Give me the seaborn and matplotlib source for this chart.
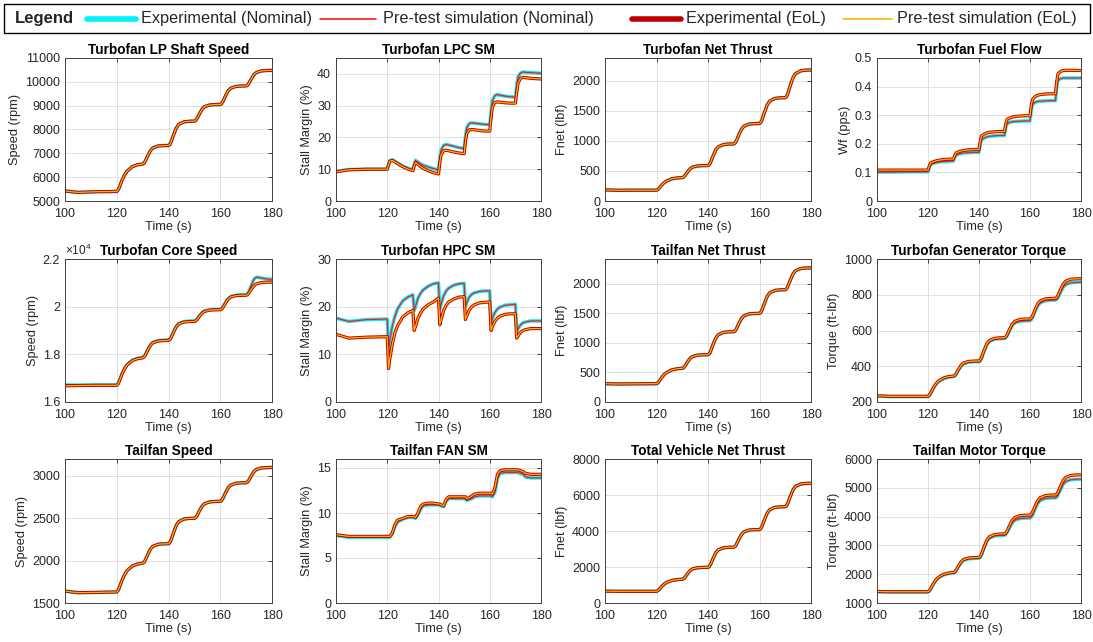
import numpy as np
import pandas as pd
import matplotlib
matplotlib.use("Agg")
import matplotlib.pyplot as plt
from matplotlib.lines import Line2D
from matplotlib.patches import Rectangle
from matplotlib.ticker import FixedLocator, FixedFormatter, FuncFormatter
import seaborn as sns

# ---------------- data ----------------
TIME = [100, 105, 112,
        120, 120.5, 121, 122, 123, 124, 126, 128,
        130, 130.5, 131, 132, 133, 134, 136, 138,
        140, 140.5, 141, 142, 143, 144, 146, 148,
        150, 150.5, 151, 152, 153, 154, 156, 158,
        160, 160.5, 161, 162, 163, 164, 166, 168,
        170, 170.5, 171, 172, 173, 174, 176, 178,
        180]

lp_speed = [5420, 5360, 5390,
            5400, 5460, 5570, 5860, 6090, 6250, 6440, 6520,
            6550, 6580, 6670, 6900, 7110, 7230, 7310, 7325,
            7330, 7370, 7480, 7790, 8060, 8220, 8320, 8345,
            8350, 8380, 8455, 8665, 8855, 8960, 9030, 9047,
            9050, 9080, 9170, 9400, 9610, 9730, 9805, 9826,
            9830, 9855, 9930, 10120, 10300, 10395, 10460, 10477,
            10480]

lpc_sm_nom = [9.3, 9.9, 10.0,
              10.0, 11.5, 12.7, 13.0, 12.5, 12.0, 11.0, 10.3,
              9.8, 11.5, 12.8, 12.3, 11.7, 11.3, 10.7, 10.2,
              9.8, 13.5, 16.0, 17.5, 17.8, 17.6, 17.2, 16.8,
              16.5, 20.0, 23.0, 24.4, 24.6, 24.5, 24.3, 24.1,
              24.0, 28.0, 31.5, 33.2, 33.5, 33.3, 33.0, 32.8,
              32.7, 36.0, 39.0, 40.3, 40.6, 40.5, 40.4, 40.3,
              40.2]
lpc_sm_eol = [9.2, 9.8, 10.0,
              10.0, 11.4, 12.5, 12.8, 12.3, 11.8, 10.8, 10.1,
              9.5, 11.0, 12.0, 11.5, 10.8, 10.3, 9.5, 8.9,
              8.5, 12.0, 14.5, 15.8, 16.0, 15.8, 15.4, 15.1,
              14.9, 18.5, 21.2, 22.4, 22.5, 22.4, 22.2, 22.0,
              22.0, 26.0, 29.5, 31.0, 31.2, 31.1, 30.9, 30.8,
              30.8, 34.0, 37.0, 38.6, 38.9, 38.8, 38.6, 38.5,
              38.4]

tf_thrust = [185, 178, 180,
             180, 190, 212, 264, 306, 335, 369, 384,
             390, 398, 420, 480, 534, 564, 584, 589,
             590, 604, 644, 752, 849, 903, 939, 948,
             950, 964, 1001, 1103, 1195, 1246, 1280, 1288,
             1290, 1307, 1355, 1484, 1600, 1664, 1707, 1718,
             1720, 1738, 1789, 1927, 2051, 2120, 2166, 2178,
             2180]

fuel_nom = [0.101, 0.101, 0.102,
            0.102, 0.116, 0.127, 0.131, 0.134, 0.136, 0.138, 0.139,
            0.140, 0.153, 0.160, 0.164, 0.166, 0.168, 0.169, 0.170,
            0.170, 0.198, 0.214, 0.220, 0.224, 0.226, 0.228, 0.229,
            0.229, 0.258, 0.270, 0.275, 0.277, 0.278, 0.279, 0.280,
            0.280, 0.318, 0.338, 0.345, 0.348, 0.349, 0.350, 0.351,
            0.351, 0.400, 0.422, 0.428, 0.430, 0.430, 0.430, 0.430,
            0.430]
fuel_eol = [0.108, 0.108, 0.108,
            0.108, 0.122, 0.133, 0.137, 0.140, 0.142, 0.145, 0.146,
            0.147, 0.160, 0.168, 0.172, 0.175, 0.177, 0.179, 0.180,
            0.180, 0.210, 0.228, 0.234, 0.238, 0.240, 0.242, 0.243,
            0.243, 0.270, 0.285, 0.290, 0.293, 0.295, 0.297, 0.298,
            0.298, 0.335, 0.355, 0.365, 0.370, 0.372, 0.374, 0.375,
            0.375, 0.420, 0.445, 0.453, 0.456, 0.457, 0.457, 0.457,
            0.456]

core_nom = [16720, 16710, 16720,
            16720, 16778, 16893, 17180, 17410, 17571, 17755, 17836,
            17870, 17899, 17980, 18199, 18396, 18505, 18578, 18596,
            18600, 18632, 18720, 18960, 19176, 19296, 19376, 19396,
            19400, 19420, 19474, 19621, 19753, 19826, 19875, 19888,
            19890, 19914, 19982, 20165, 20329, 20421, 20482, 20497,
            20500, 20530, 20620, 20900, 21150, 21240, 21200, 21160,
            21150]
core_eol = [16680, 16690, 16700,
            16700, 16758, 16873, 17160, 17390, 17551, 17735, 17816,
            17850, 17879, 17960, 18179, 18376, 18485, 18558, 18576,
            18580, 18612, 18700, 18940, 19156, 19276, 19356, 19376,
            19380, 19400, 19454, 19601, 19733, 19806, 19855, 19868,
            19870, 19894, 19962, 20145, 20309, 20401, 20462, 20477,
            20480, 20502, 20563, 20728, 20876, 20959, 21014, 21027,
            21030]
core_ticklabels = ["1.6", "1.8", "2", "2.2"]

hpc_sm_nom = [17.6, 16.9, 17.3,
              17.4, 11.0, 13.0, 16.0, 18.0, 19.5, 21.2, 22.0,
              22.5, 19.2, 20.0, 21.8, 22.8, 23.5, 24.3, 24.8,
              25.0, 19.5, 20.5, 22.3, 23.3, 23.9, 24.5, 24.8,
              24.9, 20.0, 20.8, 22.0, 22.6, 22.9, 23.2, 23.3,
              23.3, 16.5, 17.5, 18.8, 19.5, 19.9, 20.3, 20.4,
              20.5, 14.8, 15.3, 16.2, 16.6, 16.8, 17.0, 17.0,
              17.0]
hpc_sm_eol = [14.2, 13.4, 13.6,
              13.7, 7.0, 9.0, 12.2, 14.5, 16.0, 17.8, 18.7,
              19.2, 15.0, 15.8, 17.6, 18.7, 19.5, 20.4, 21.0,
              21.8, 16.2, 17.2, 19.2, 20.3, 21.0, 21.6, 22.0,
              22.1, 17.3, 18.0, 19.3, 20.0, 20.4, 20.8, 20.9,
              21.0, 15.0, 15.8, 16.9, 17.6, 18.0, 18.4, 18.5,
              18.5, 13.4, 13.8, 14.6, 15.0, 15.2, 15.4, 15.4,
              15.4]

tail_thrust = [310, 305, 308,
               310, 323, 349, 414, 466, 502, 544, 562,
               570, 579, 605, 674, 736, 770, 793, 799,
               800, 816, 859, 976, 1081, 1139, 1178, 1188,
               1190, 1202, 1237, 1330, 1413, 1460, 1491, 1498,
               1500, 1516, 1560, 1680, 1788, 1848, 1888, 1898,
               1900, 1915, 1956, 2067, 2166, 2222, 2259, 2268,
               2270]

gen_torque_nom = [233, 230, 230,
                  230, 236, 247, 275, 297, 313, 330, 338,
                  343, 346, 355, 380, 402, 414, 423, 425,
                  425, 430, 445, 484, 519, 538, 551, 554,
                  555, 559, 570, 600, 627, 642, 652, 654,
                  655, 660, 672, 707, 738, 755, 767, 769,
                  770, 774, 785, 815, 842, 857, 867, 869,
                  870]
gen_torque_eol = [235, 232, 232,
                  232, 238, 249, 277, 300, 316, 334, 342,
                  345, 348, 358, 383, 406, 419, 427, 429,
                  430, 435, 450, 489, 524, 543, 556, 559,
                  560, 564, 576, 607, 636, 651, 662, 664,
                  665, 670, 682, 717, 748, 765, 777, 779,
                  780, 784, 797, 830, 859, 876, 887, 889,
                  890]

tail_speed = [1640, 1622, 1625,
              1630, 1647, 1681, 1766, 1834, 1882, 1936, 1960,
              1970, 1979, 2005, 2074, 2136, 2170, 2193, 2199,
              2200, 2212, 2245, 2335, 2416, 2461, 2491, 2499,
              2500, 2508, 2530, 2590, 2644, 2674, 2694, 2699,
              2700, 2709, 2733, 2799, 2858, 2891, 2913, 2919,
              2920, 2927, 2947, 3001, 3050, 3077, 3095, 3099,
              3100]

fan_sm_nom = [7.5, 7.3, 7.3,
              7.3, 7.3, 7.3, 7.7, 8.5, 9.0, 9.3, 9.5,
              9.5, 9.5, 9.4, 9.8, 10.4, 10.8, 10.9, 10.9,
              10.9, 10.9, 10.8, 10.7, 11.3, 11.6, 11.6, 11.6,
              11.6, 11.6, 11.4, 11.5, 11.6, 11.8, 11.9, 11.9,
              11.9, 11.9, 11.8, 12.3, 13.8, 14.4, 14.5, 14.5,
              14.5, 14.5, 14.5, 14.4, 14.3, 14.0, 13.9, 13.9,
              13.9]
fan_sm_eol = [7.6, 7.4, 7.4,
              7.4, 7.4, 7.4, 7.8, 8.7, 9.2, 9.4, 9.6,
              9.6, 9.6, 9.5, 10.0, 10.7, 11.0, 11.1, 11.1,
              11.0, 11.0, 10.9, 10.8, 11.5, 11.8, 11.8, 11.8,
              11.8, 11.8, 11.6, 11.7, 11.9, 12.1, 12.2, 12.2,
              12.2, 12.2, 12.1, 12.8, 14.3, 14.7, 14.8, 14.8,
              14.8, 14.8, 14.8, 14.7, 14.6, 14.4, 14.3, 14.3,
              14.3]

total_thrust = [660, 650, 650,
                650, 684, 751, 918, 1052, 1146, 1253, 1300,
                1320, 1346, 1419, 1617, 1795, 1894, 1960, 1977,
                1980, 2025, 2148, 2484, 2786, 2954, 3066, 3094,
                3100, 3139, 3247, 3541, 3806, 3953, 4051, 4075,
                4080, 4131, 4271, 4652, 4994, 5185, 5312, 5344,
                5350, 5402, 5545, 5935, 6286, 6481, 6611, 6644,
                6650]

motor_torque_nom = [1390, 1380, 1380,
                    1380, 1413, 1479, 1644, 1776, 1868, 1974, 2020,
                    2040, 2060, 2117, 2270, 2407, 2484, 2535, 2547,
                    2550, 2582, 2670, 2910, 3126, 3246, 3326, 3346,
                    3350, 3374, 3440, 3620, 3782, 3872, 3932, 3947,
                    3950, 3978, 4055, 4265, 4454, 4559, 4629, 4647,
                    4650, 4676, 4748, 4943, 5118, 5216, 5281, 5297,
                    5300]
motor_torque_eol = [1400, 1390, 1390,
                    1390, 1424, 1491, 1658, 1792, 1886, 1993, 2040,
                    2060, 2081, 2138, 2294, 2434, 2512, 2564, 2577,
                    2580, 2613, 2703, 2949, 3170, 3293, 3375, 3396,
                    3400, 3426, 3498, 3693, 3868, 3966, 4031, 4047,
                    4050, 4078, 4155, 4365, 4554, 4659, 4729, 4747,
                    4750, 4778, 4855, 5065, 5254, 5359, 5429, 5447,
                    5450]

TITLES = ["Turbofan LP Shaft Speed", "Turbofan LPC SM", "Turbofan Net Thrust", "Turbofan Fuel Flow",
          "Turbofan Core Speed", "Turbofan HPC SM", "Tailfan Net Thrust", "Turbofan Generator Torque",
          "Tailfan Speed", "Tailfan FAN SM", "Total Vehicle Net Thrust", "Tailfan Motor Torque"]
YLABELS = ["Speed (rpm)", "Stall Margin (%)", "Fnet (lbf)", "Wf (pps)",
           "Speed (rpm)", "Stall Margin (%)", "Fnet (lbf)", "Torque (ft-lbf)",
           "Speed (rpm)", "Stall Margin (%)", "Fnet (lbf)", "Torque (ft-lbf)"]
SERIES_LABELS = ["Experimental (Nominal)", "Pre-test simulation (Nominal)",
                 "Experimental (EoL)", "Pre-test simulation (EoL)"]

NOMINAL = [lp_speed, lpc_sm_nom, tf_thrust, fuel_nom,
           core_nom, hpc_sm_nom, tail_thrust, gen_torque_nom,
           tail_speed, fan_sm_nom, total_thrust, motor_torque_nom]
EOL = [lp_speed, lpc_sm_eol, tf_thrust, fuel_eol,
       core_eol, hpc_sm_eol, tail_thrust, gen_torque_eol,
       tail_speed, fan_sm_eol, total_thrust, motor_torque_eol]

# axis ranges / ticks (style)
YLIMS = [(5000, 11000), (0, 45), (0, 2380), (0, 0.5),
         (16000, 22000), (0, 30), (0, 2420), (200, 1000),
         (1500, 3200), (0, 16), (0, 8000), (1000, 6000)]
YSTEPS = [1000, 10, 500, 0.1,
          2000, 10, 500, 200,
          500, 5, 2000, 1000]

# ---------------- style ----------------
sns.set_theme(style="white")
plt.rcParams["font.family"] = ["Liberation Sans", "DejaVu Sans"]
plt.rcParams["mathtext.fontset"] = "custom"
plt.rcParams["mathtext.rm"] = "Liberation Sans"
plt.rcParams["mathtext.default"] = "regular"

COLORS = ["#00F0FF", "#FF1A1A", "#C00000", "#FFB400"]
WIDTHS = [2.5, 0.9, 2.3, 0.9]
TXT = "#262626"

W, H = 1093, 642
fig = plt.figure(figsize=(W / 100, H / 100), dpi=100)

cols = [(65, 272), (336, 541), (605, 811), (877, 1081)]
rows = [(58, 201), (259, 402), (459, 603)]

for i in range(12):
    r, c = divmod(i, 4)
    x0, x1 = cols[c]
    y0, y1 = rows[r]
    ax = fig.add_axes([x0 / W, 1 - y1 / H, (x1 - x0) / W, (y1 - y0) / H])
    series = [NOMINAL[i], NOMINAL[i], EOL[i], EOL[i]]
    for k in range(4):
        df = pd.DataFrame({"Time": TIME, "Value": series[k]})
        sns.lineplot(data=df, x="Time", y="Value", ax=ax, color=COLORS[k],
                     linewidth=WIDTHS[k], estimator=None, sort=False, legend=False)
    ax.set_xlim(100, 180)
    ax.set_ylim(*YLIMS[i])
    ax.set_xticks([100, 120, 140, 160, 180])
    lo, hi = YLIMS[i]
    step = YSTEPS[i]
    ticks = np.arange(lo, hi + step * 0.01, step)
    ax.yaxis.set_major_locator(FixedLocator(ticks))
    if i == 4:
        ax.yaxis.set_major_formatter(FixedFormatter(core_ticklabels))
        ax.text(0.0, 1.01, "×10$^{4}$", transform=ax.transAxes, fontsize=8.5,
                color=TXT, ha="left", va="bottom")
    else:
        ax.yaxis.set_major_formatter(FuncFormatter(lambda v, p: "%g" % round(v, 6)))
    ax.set_title(TITLES[i], fontsize=9.8, fontweight="bold", color="black", pad=3)
    ax.set_xlabel("Time (s)", fontsize=9.3, color=TXT, labelpad=0.5)
    ax.set_ylabel(YLABELS[i], fontsize=9.2, color=TXT, labelpad=3)
    ax.tick_params(axis="both", direction="in", length=3, width=0.6, labelsize=9,
                   colors=TXT, top=True, right=True)
    ax.tick_params(axis="x", pad=5)
    ax.tick_params(axis="y", pad=3.5)
    ax.grid(True, color="#dcdcdc", linewidth=0.6)
    ax.set_axisbelow(True)
    for sp in ax.spines.values():
        sp.set_color("#404040")
        sp.set_linewidth(0.7)

# ---------------- legend box ----------------
def fx(px):
    return px / W

def fy(py):
    return 1 - py / H

fig.add_artist(Rectangle((fx(4), fy(33)), fx(1090) - fx(4), fy(4) - fy(33),
                         transform=fig.transFigure, facecolor="white",
                         edgecolor="black", linewidth=1.0))
yc = fy(19)
fig.text(fx(15), yc, "Legend", fontsize=12, fontweight="bold", ha="left", va="center")
handles = [(87, 136, 141), (320, 376, 383), (632, 681, 686), (843, 892, 897)]
LEG_W = [4.0, 1.2, 4.0, 1.2]
for k, (h0, h1, tx) in enumerate(handles):
    fig.add_artist(Line2D([fx(h0), fx(h1)], [yc, yc], transform=fig.transFigure,
                          color=COLORS[k], linewidth=LEG_W[k]))
    fig.text(fx(tx), yc, SERIES_LABELS[k], fontsize=11.7, ha="left", va="center")

fig.savefig("out.png", dpi=100)
